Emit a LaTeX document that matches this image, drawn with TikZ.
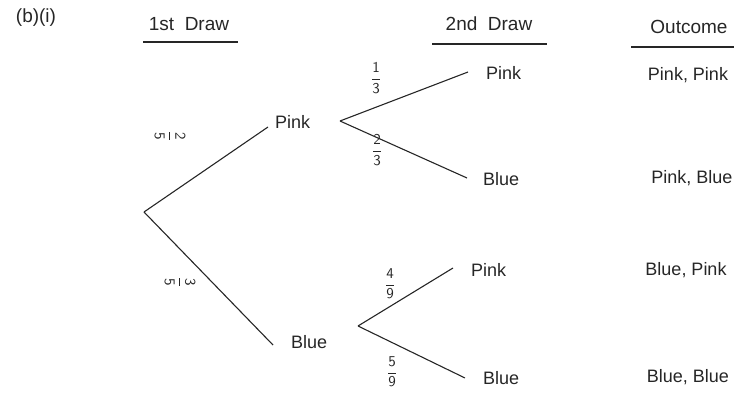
\documentclass[tikz,border=0pt]{standalone}
\usepackage{fontspec}
\setmainfont{Liberation Sans}
\newcommand{\prob}[2]{\scalebox{1.5}{$\displaystyle\frac{\mathsf{#1}}{\mathsf{#2}}$}}
\begin{document}
\begin{tikzpicture}[x=1pt,y=-1pt,
  ink/.style={draw=black!85, line width=1.1pt},
  lbl/.style={text=black!85, font=\fontsize{18}{21}\selectfont, inner sep=0pt},
  head/.style={text=black!85, font=\fontsize{19}{22}\selectfont, inner sep=0pt},
  frac/.style={text=black!85, inner sep=0pt}]
\useasboundingbox (0,0) rectangle (744,395);

% part label and column headings
\node[head] (part) at (36,18) {(b)(i)};
\node[head] (h1) at (189,24) {1st\ \ Draw};
\node[head] (h2) at (489,24) {2nd\ \ Draw};
\node[head] (h3) at (689,27) {Outcome};
\draw[ink] (143,42) -- (238,42);
\draw[ink] (432,44) -- (547,44);
\draw[ink] (631,47) -- (734,47);

% tree nodes
\coordinate (root) at (144,212);
\node[lbl, anchor=west] (p1) at (275,122) {Pink};
\node[lbl, anchor=west] (b1) at (291,342) {Blue};
\node[lbl, anchor=west] (pp) at (486,73) {Pink};
\node[lbl, anchor=west] (pb) at (483,179) {Blue};
\node[lbl, anchor=west] (bp) at (471,270) {Pink};
\node[lbl, anchor=west] (bb) at (483,378) {Blue};

% branch ends
\coordinate (p1in) at (268,127);
\coordinate (b1in) at (273,345);
\coordinate (p1out) at (340,121);
\coordinate (b1out) at (358,326);
\coordinate (ppin) at (468,72);
\coordinate (pbin) at (467,178);
\coordinate (bpin) at (453,268);
\coordinate (bbin) at (465,378);

% branches
\draw[ink] (root) -- (p1in);
\draw[ink] (root) -- (b1in);
\draw[ink] (p1out) -- (ppin);
\draw[ink] (p1out) -- (pbin);
\draw[ink] (b1out) -- (bpin);
\draw[ink] (b1out) -- (bbin);

% branch probabilities
\node[frac, rotate=-90] (f25) at (170,136) {\prob{2}{5}};
\node[frac, rotate=-90] (f35) at (180,282) {\prob{3}{5}};
\node[frac] (f13) at (376,78) {\prob{1}{3}};
\node[frac] (f23) at (377,150) {\prob{2}{3}};
\node[frac] (f49) at (390,284) {\prob{4}{9}};
\node[frac] (f59) at (392,372) {\prob{5}{9}};

% outcomes
\node[lbl] (o1) at (688,75) {Pink, Pink};
\node[lbl] (o2) at (692,178) {Pink, Blue};
\node[lbl] (o3) at (686,270) {Blue, Pink};
\node[lbl] (o4) at (688,377) {Blue, Blue};
\end{tikzpicture}
\end{document}
